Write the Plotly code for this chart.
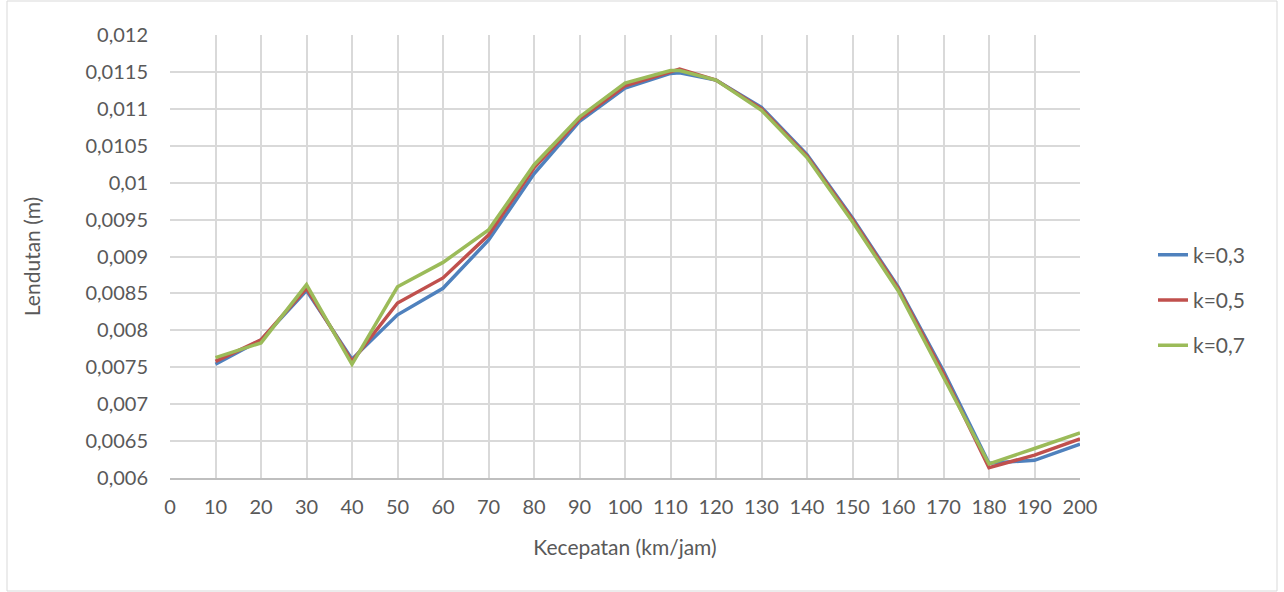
import plotly.graph_objects as go

speed = [10, 20, 30, 40, 50, 60, 70, 80, 90, 100, 110, 112, 120, 130, 140, 150, 160, 170, 180, 190, 200]
k03 = [0.00754, 0.00787, 0.00854, 0.00761, 0.00821, 0.00857, 0.00922, 0.01012, 0.01083, 0.01128, 0.01148, 0.01149,
       0.01139, 0.01102, 0.01038, 0.00952, 0.00859, 0.00745, 0.00620, 0.00624, 0.00646]
k05 = [0.00758, 0.00787, 0.00857, 0.00758, 0.00837, 0.00871, 0.00929, 0.01020, 0.01086, 0.01131, 0.01150, 0.01154,
       0.01139, 0.01100, 0.01036, 0.00950, 0.00857, 0.00741, 0.00614, 0.00631, 0.00653]
k07 = [0.00763, 0.00783, 0.00862, 0.00754, 0.00859, 0.00892, 0.00936, 0.01024, 0.01089, 0.01135, 0.01152, 0.01152,
       0.01139, 0.01098, 0.01034, 0.00947, 0.00854, 0.00737, 0.00619, 0.00640, 0.00661]
names = ["k=0,3", "k=0,5", "k=0,7"]
colors = ["#4F81BD", "#C0504D", "#9BBB59"]

y_ticks = [0.006, 0.0065, 0.007, 0.0075, 0.008, 0.0085, 0.009, 0.0095, 0.01, 0.0105, 0.011, 0.0115, 0.012]
y_labels = ["0,006", "0,0065", "0,007", "0,0075", "0,008", "0,0085", "0,009", "0,0095", "0,01", "0,0105",
            "0,011", "0,0115", "0,012"]
x_ticks = list(range(0, 201, 10))

W, H = 1284, 592
ml, mr, mt, mb = 170, 204, 35, 114
pw, ph = W - ml - mr, H - mt - mb

fig = go.Figure()
for i, (ys, nm, c) in enumerate(zip([k03, k05, k07], names, colors)):
    fig.add_trace(go.Scatter(x=speed, y=ys, mode="lines", name=nm, legendgroup=nm,
                             line=dict(color=c, width=3.5)))

font = "Lato, Carlito, Calibri, 'Open Sans', sans-serif"
fig.update_layout(
    width=W, height=H,
    margin=dict(l=ml, r=mr, t=mt, b=mb),
    paper_bgcolor="white", plot_bgcolor="white",
    font=dict(family=font, color="#595959", size=20),
    showlegend=True,
    legend=dict(x=(1153 - ml) / pw, xanchor="left", y=(H - mb - 300) / ph, yanchor="middle",
                font=dict(size=21, color="#595959"), tracegroupgap=15, bgcolor="rgba(0,0,0,0)"),
    xaxis=dict(range=[0, 200], tickvals=x_ticks, ticktext=[str(v) for v in x_ticks],
               showgrid=True, gridcolor="#D9D9D9", gridwidth=1.5,
               showline=True, linecolor="#BFBFBF", linewidth=1.5, ticks="",
               ticklabelstandoff=10,
               zeroline=False, title=dict(text="Kecepatan (km/jam)", font=dict(size=21), standoff=24),
               tickfont=dict(size=20)),
    yaxis=dict(range=[0.006, 0.012], tickvals=y_ticks, ticktext=y_labels,
               showgrid=True, gridcolor="#D9D9D9", gridwidth=1.5,
               showline=False, ticks="", zeroline=False,
               ticklabelstandoff=21,
               title=dict(text="Lendutan (m)", font=dict(size=21), standoff=39),
               tickfont=dict(size=20)),
    shapes=[dict(type="rect", xref="paper", yref="paper",
                 x0=(7 - ml) / pw, x1=(1277 - ml) / pw,
                 y0=(H - mb - 591) / ph, y1=(H - mb - 1) / ph,
                 line=dict(color="#D9D9D9", width=1), layer="below")],
)

fig.write_html("out.html")
